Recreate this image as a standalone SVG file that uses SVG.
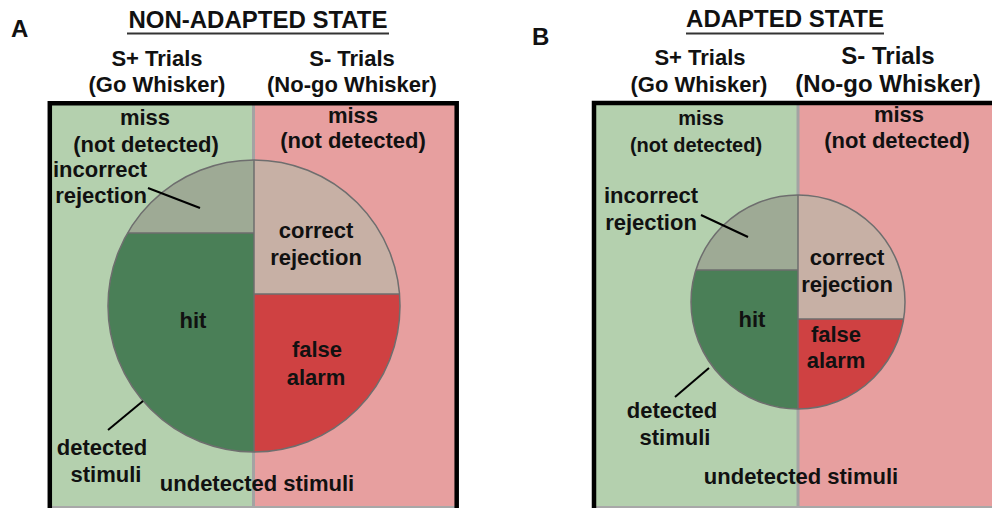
<svg xmlns="http://www.w3.org/2000/svg" width="992" height="508" viewBox="0 0 992 508">
<style>
text{font-family:"Liberation Sans",Arial,sans-serif;font-weight:bold;fill:#111;text-anchor:middle;font-size:22px}
.s20{font-size:20px}
.s24{font-size:24px}
.lbl{font-size:24px;text-anchor:start}
.go{fill:#b4d0ae}
.nogo{fill:#e79f9f}
.div{stroke:#a3a3a3;stroke-width:3}
.frame{fill:none;stroke:#000;stroke-width:4.5}
.bot{stroke:#a8a8a8;stroke-width:2}
.ir{fill:#9eaa95}
.hit{fill:#4a7f57}
.cr{fill:#c7b0a5}
.fa{fill:#cf4142}
.pl{fill:none;stroke:#6e6e6e;stroke-width:1.5}
.ul{stroke:#333;stroke-width:2}
.lead{stroke:#000;stroke-width:2;fill:none}
</style>

<g id="panelA">
  <text class="lbl" x="11" y="37">A</text>
  <g id="titleA">
    <text class="s24" x="258" y="28">NON-ADAPTED STATE</text>
    <line class="ul" x1="127" y1="33.5" x2="389" y2="33.5"/>
  </g>
  <g id="headA">
    <text x="157" y="66">S+ Trials</text>
    <text x="157" y="92">(Go Whisker)</text>
    <text x="352" y="66">S- Trials</text>
    <text x="352" y="92">(No-go Whisker)</text>
  </g>
  <g id="boxA">
    <rect class="go" x="50" y="103" width="204" height="405"/>
    <rect class="nogo" x="254" y="103" width="203" height="405"/>
    <line class="div" x1="253.5" y1="103" x2="253.5" y2="508"/>
    <line class="bot" x1="50" y1="507" x2="457" y2="507"/>
    <path class="frame" d="M49.8,508 V103.3 H456.7 V508"/>
  </g>
  <g id="pieA">
    <path class="ir" d="M254,160 A146,146 0 0 0 127.6,233 L254,233 Z"/>
    <path class="hit" d="M127.6,233 A146,146 0 0 0 254,452 L254,233 Z"/>
    <path class="cr" d="M254,160 A146,146 0 0 1 399.5,294 L254,294 Z"/>
    <path class="fa" d="M399.5,294 A146,146 0 0 1 254,452 L254,294 Z"/>
    <circle class="pl" cx="254" cy="306" r="146"/>
    <path class="pl" d="M254,160 V452 M127.6,233 H254 M254,294 H399.5"/>
  </g>
  <g id="labelsA">
    <text x="145" y="125">miss</text>
    <text x="146" y="152">(not detected)</text>
    <text x="353" y="123">miss</text>
    <text x="353" y="148">(not detected)</text>
    <text x="100" y="177">incorrect</text>
    <text x="101" y="203">rejection</text>
    <text x="316" y="238">correct</text>
    <text x="316" y="265">rejection</text>
    <text x="193" y="328">hit</text>
    <text x="317" y="357">false</text>
    <text x="316" y="385">alarm</text>
    <text x="102" y="455">detected</text>
    <text x="106" y="482">stimuli</text>
    <text x="257" y="491">undetected stimuli</text>
  </g>
</g>

<g id="panelB">
  <text class="lbl" x="532" y="45">B</text>
  <g id="titleB">
    <text class="s24" x="785" y="27">ADAPTED STATE</text>
    <line class="ul" x1="686" y1="33.5" x2="884" y2="33.5"/>
  </g>
  <g id="headB">
    <text x="700" y="65">S+ Trials</text>
    <text x="699" y="92">(Go Whisker)</text>
    <text class="s24" x="888" y="64">S- Trials</text>
    <text class="s24" x="888" y="92">(No-go Whisker)</text>
  </g>
  <g id="boxB">
    <rect class="go" x="594" y="103" width="204" height="405"/>
    <rect class="nogo" x="798" y="103" width="194" height="405"/>
    <line class="div" x1="798" y1="103" x2="798" y2="508"/>
    <line class="bot" x1="594" y1="507" x2="992" y2="507"/>
    <path class="frame" d="M594,508 V103 H992"/>
  </g>
  <g id="pieB">
    <path class="ir" d="M798,195 A107,107 0 0 0 695.9,270 L798,270 Z"/>
    <path class="hit" d="M695.9,270 A107,107 0 0 0 798,409 L798,270 Z"/>
    <path class="cr" d="M798,195 A107,107 0 0 1 903.6,319 L798,319 Z"/>
    <path class="fa" d="M903.6,319 A107,107 0 0 1 798,409 L798,319 Z"/>
    <circle class="pl" cx="798" cy="302" r="107"/>
    <path class="pl" d="M798,195 V409 M695.9,270 H798 M798,319 H903.6"/>
  </g>
  <g id="labelsB">
    <text class="s20" x="701" y="125">miss</text>
    <text class="s20" x="696" y="152">(not detected)</text>
    <text x="899" y="122">miss</text>
    <text x="897" y="148">(not detected)</text>
    <text x="651" y="203">incorrect</text>
    <text x="651" y="230">rejection</text>
    <text x="847" y="265">correct</text>
    <text x="847" y="292">rejection</text>
    <text x="752" y="327">hit</text>
    <text x="836" y="342">false</text>
    <text x="836" y="368">alarm</text>
    <text x="672" y="418">detected</text>
    <text x="675" y="445">stimuli</text>
    <text x="801" y="484">undetected stimuli</text>
  </g>
</g>

<g id="connectors">
  <line class="lead" x1="148" y1="188" x2="200" y2="208"/>
  <line class="lead" x1="143" y1="401" x2="108" y2="430"/>
  <line class="lead" x1="701" y1="215" x2="748" y2="237"/>
  <line class="lead" x1="709" y1="368" x2="675" y2="397"/>
</g>
</svg>
